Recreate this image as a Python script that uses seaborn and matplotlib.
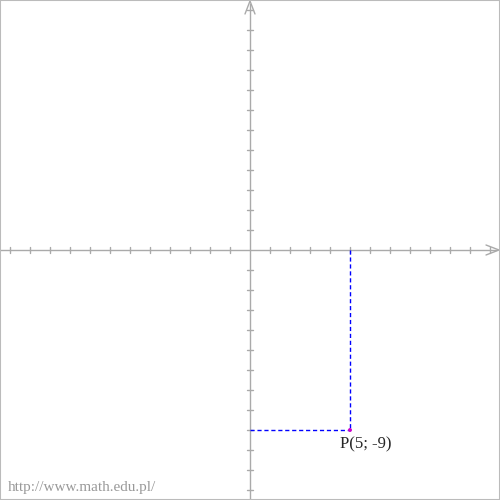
import matplotlib
matplotlib.use("Agg")
import matplotlib.pyplot as plt
import seaborn as sns
import pandas as pd

px = [5]
py = [-9]
label = ["P(5; -9)"]
ticks = list(range(-12, 13))

sns.set_style("white")
fig = plt.figure(figsize=(5, 5), dpi=100)
ax = fig.add_axes([0, 0, 1, 1])
ax.set_xlim(-12.5, 12.5)
ax.set_ylim(-12.5, 12.5)
ax.axis("off")
fig.patches.append(plt.Rectangle((0, 0), 1, 1, transform=fig.transFigure,
                                 fill=False, edgecolor="#bbbbbb", lw=1.5))
g = "#aaaaaa"
ax.plot([-12.5, 12.3], [0, 0], color=g, lw=1)
ax.plot([0, 0], [-12.5, 12.3], color=g, lw=1)
for t in ticks:
    if t != 0:
        ax.plot([t, t], [-0.15, 0.15], color=g, lw=1)
        ax.plot([-0.15, 0.15], [t, t], color=g, lw=1)
ax.plot([11.8, 12.45, 11.8], [0.25, 0, -0.25], color=g, lw=1)
ax.plot([-0.25, 0, 0.25], [11.8, 12.45, 11.8], color=g, lw=1)

dfv = pd.DataFrame({"x": [px[0], px[0]], "y": [0, py[0]]})
dfh = pd.DataFrame({"x": [0, px[0]], "y": [py[0], py[0]]})
for d in (dfv, dfh):
    sns.lineplot(data=d, x="x", y="y", ax=ax, color="blue", lw=1,
                 linestyle=(0, (3, 2)), sort=False, estimator=None, errorbar=None)
sns.scatterplot(x=px, y=py, ax=ax, color="#cc00cc", s=8, edgecolor="none", zorder=5)
ax.text(px[0] - 0.5, py[0] - 0.3, label[0], fontsize=12, family="Liberation Serif",
        va="top", ha="left")
ax.text(0.015, 0.012, "http://www.math.edu.pl/", transform=ax.transAxes, fontsize=11,
        family="Liberation Serif", color="#999999", ha="left", va="bottom")
ax.set_xlabel(""); ax.set_ylabel("")
fig.savefig("out.png", dpi=100)
